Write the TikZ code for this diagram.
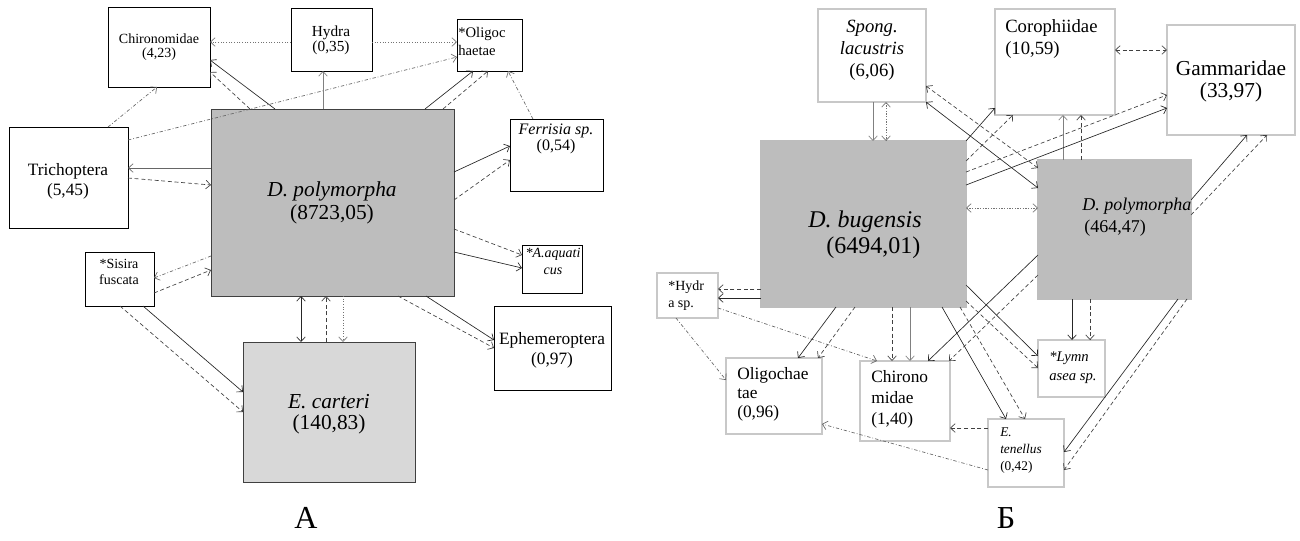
\documentclass[tikz,border=0pt]{standalone}
\usepackage{fontspec}
\setmainfont{Liberation Serif}
\usetikzlibrary{arrows.meta,calc}
\definecolor{grayA}{HTML}{BDBDBD}
\definecolor{grayB}{HTML}{D8D8D8}
\definecolor{edgeR}{HTML}{C8C8C8}
\begin{document}
\begin{tikzpicture}[x=0.75pt,y=-0.75pt,
  sz/.style 2 args={minimum width=#1*0.75pt,minimum height=#2*0.75pt},
  bxL/.style={draw=black,line width=0.6pt,inner sep=0pt,outer sep=0pt,fill=white},
  bxR/.style={draw=edgeR,line width=0.8pt,inner sep=0pt,outer sep=0pt,fill=white},
  tx/.style={inner sep=0pt,align=center},
  txl/.style={inner sep=0pt,align=left,anchor=west},
  fs/.style 2 args={font=\fontsize{#1}{#2}\selectfont},
  ar/.style={line width=0.5pt,-{Straight Barb[length=3.5pt,width=6.5pt]}},
  sl/.style={ar,draw=black!85},
  ds/.style={ar,draw=black!75,dash pattern=on 3pt off 2pt},
  dd/.style={ar,draw=black!60,dash pattern=on 2.5pt off 1.5pt on 0.6pt off 1.5pt},
  dt/.style={ar,draw=black!55,dash pattern=on 0.8pt off 1.2pt},
  both/.style={{Straight Barb[length=3.5pt,width=6.5pt]}-{Straight Barb[length=3.5pt,width=6.5pt]}},
]
\useasboundingbox (0,0) rectangle (1300,540);

% ---------- panel A boxes ----------
\node[bxL,sz={102}{80}] (chL) at (159,47) {};
\node[bxL,sz={81}{63}] (hyL) at (331.5,39.5) {};
\node[bxL,sz={65}{52}] (olL) at (489.5,45) {};
\node[bxL,sz={119}{101}] (trL) at (68.5,177.5) {};
\node[bxL,sz={243}{187},fill=grayA,draw=black!75] (dpL) at (332.5,202.5) {};
\node[bxL,sz={93}{72}] (feL) at (556.5,155) {};
\node[bxL,sz={60}{48}] (aqL) at (552,269) {};
\node[bxL,sz={69}{54}] (siL) at (119.5,279) {};
\node[bxL,sz={117}{84}] (epL) at (552.5,348) {};
\node[bxL,sz={172}{140},fill=grayB,draw=black!75] (ecL) at (329,412) {};

% ---------- panel B boxes ----------
\node[bxR,sz={108}{93}] (spR) at (872,55.5) {};
\node[bxR,sz={120}{106}] (coR) at (1055,62) {};
\node[bxR,sz={128}{110}] (gaR) at (1231,80) {};
\node[bxR,sz={205}{166},fill=grayA,draw=grayA] (dbR) at (863.5,224) {};
\node[bxR,sz={153}{139},fill=grayA,draw=grayA] (dpR) at (1114.5,229.5) {};
\node[bxR,sz={61}{45}] (hyR) at (687.5,295.5) {};
\node[bxR,sz={96}{76}] (olR) at (774,396) {};
\node[bxR,sz={90}{80}] (chR) at (905,401) {};
\node[bxR,sz={67}{57}] (lyR) at (1071.5,368.5) {};
\node[bxR,sz={76}{68}] (etR) at (1026,453) {};

% ---------- panel A connectors ----------
\draw[dt] ($(hyL.north west)+(0,34)$) -- ($(chL.north west)+(102,35)$);
\draw[dt] ($(hyL.north west)+(81,34)$) -- ($(olL.north west)+(0,23)$);
\draw[dd] ($(trL.north west)+(119,13)$) -- ($(olL.north west)+(0,38)$);
\draw[dd] ($(trL.north west)+(99,0)$) -- ($(chL.north west)+(49,80)$);
\draw[sl] ($(dpL.north west)+(64,0)$) -- ($(chL.north west)+(102,53)$);
\draw[ds] ($(dpL.north west)+(39,0)$) -- ($(chL.north west)+(102,65)$);
\draw[sl,draw=black!50] ($(dpL.north west)+(112,0)$) -- ($(hyL.north west)+(32,63)$);
\draw[sl] ($(dpL.north west)+(214,0)$) -- ($(olL.north west)+(16,52)$);
\draw[ds] ($(dpL.north west)+(232,0)$) -- ($(olL.north west)+(31,52)$);
\draw[dd] ($(feL.north west)+(23,0)$) -- ($(olL.north west)+(51,52)$);
\draw[sl] ($(dpL.north west)+(243,63)$) -- ($(feL.north west)+(0,27)$);
\draw[ds] ($(dpL.north west)+(243,91)$) -- ($(feL.north west)+(0,41)$);
\draw[ds] ($(dpL.north west)+(243,120)$) -- ($(aqL.north west)+(0,10)$);
\draw[sl] ($(dpL.north west)+(243,143)$) -- ($(aqL.north west)+(0,23)$);
\draw[sl] ($(dpL.north west)+(215,187)$) -- ($(epL.north west)+(0,34)$);
\draw[ds] ($(dpL.north west)+(187,187)$) -- ($(epL.north west)+(0,42)$);
\draw[sl,draw=black!60] ($(dpL.north west)+(0,59)$) -- ($(trL.north west)+(119,41)$);
\draw[ds] ($(trL.north west)+(119,51)$) -- ($(dpL.north west)+(0,76)$);
\draw[dd] ($(dpL.north west)+(0,147)$) -- ($(siL.north west)+(69,26)$);
\draw[ds] ($(siL.north west)+(69,41)$) -- ($(dpL.north west)+(0,161)$);
\draw[sl] ($(siL.north west)+(58,54)$) -- ($(ecL.north west)+(0,50)$);
\draw[ds] ($(siL.north west)+(35,54)$) -- ($(ecL.north west)+(0,70)$);
\draw[sl,both] ($(dpL.north west)+(90,187)$) -- ($(ecL.north west)+(58,0)$);
\draw[ds] ($(ecL.north west)+(83,0)$) -- ($(dpL.north west)+(115,187)$);
\draw[dt] ($(dpL.north west)+(132,187)$) -- ($(ecL.north west)+(100,0)$);

% ---------- panel B connectors ----------
\draw[sl,draw=black!50] ($(spR.north west)+(55,93)$) -- ($(dbR.north west)+(112,0)$);
\draw[dt,both] ($(spR.north west)+(68,93)$) -- ($(dbR.north west)+(125,0)$);
\draw[ds,both] ($(coR.north west)+(120,41)$) -- ($(gaR.north west)+(0,25)$);
\draw[sl,both] ($(spR.north west)+(108,93)$) -- ($(dpR.north west)+(0,28)$);
\draw[ds,both] ($(spR.north west)+(108,77)$) -- ($(dpR.north west)+(0,8)$);
\draw[sl] ($(dbR.north west)+(205,0)$) -- ($(coR.north west)+(0,99)$);
\draw[ds] ($(dbR.north west)+(205,20)$) -- ($(coR.north west)+(18,106)$);
\draw[sl,draw=black!50] ($(dpR.north west)+(25,0)$) -- ($(coR.north west)+(68,106)$);
\draw[ds] ($(dpR.north west)+(43,0)$) -- ($(coR.north west)+(86,106)$);
\draw[ds] ($(dbR.north west)+(205,31)$) -- ($(gaR.north west)+(0,70)$);
\draw[sl] ($(dbR.north west)+(205,44)$) -- ($(gaR.north west)+(0,83)$);
\draw[dt,both] ($(dbR.north west)+(205,67)$) -- ($(dpR.north west)+(0,48)$);
\draw[sl] ($(dpR.north west)+(153,40)$) -- ($(gaR.north west)+(80,110)$);
\draw[ds] ($(dpR.north west)+(153,55)$) -- ($(gaR.north west)+(100,110)$);
\draw[ds] ($(dbR.north west)+(0,148)$) -- ($(hyR.north west)+(61,16)$);
\draw[sl] ($(dbR.north west)+(0,157)$) -- ($(hyR.north west)+(61,25)$);
\draw[dd] ($(hyR.north west)+(19,45)$) -- ($(olR.north west)+(0,22)$);
\draw[dd] ($(hyR.north west)+(61,35)$) -- ($(chR.north west)+(17,0)$);
\draw[sl] ($(dbR.north west)+(75,166)$) -- ($(olR.north west)+(72,0)$);
\draw[ds] ($(dbR.north west)+(94,166)$) -- ($(olR.north west)+(92,0)$);
\draw[ds] ($(dbR.north west)+(131,166)$) -- ($(chR.north west)+(32,0)$);
\draw[sl,draw=black!50] ($(dbR.north west)+(149,166)$) -- ($(chR.north west)+(50,0)$);
\draw[sl] ($(dpR.north west)+(0,95)$) -- ($(chR.north west)+(68,0)$);
\draw[ds] ($(dpR.north west)+(0,115)$) -- ($(chR.north west)+(89,0)$);
\draw[sl] ($(dbR.north west)+(205,144)$) -- ($(lyR.north west)+(0,16)$);
\draw[ds] ($(dbR.north west)+(205,160)$) -- ($(lyR.north west)+(0,28)$);
\draw[sl] ($(dbR.north west)+(181,166)$) -- ($(etR.north west)+(18,0)$);
\draw[ds] ($(dbR.north west)+(199,166)$) -- ($(etR.north west)+(37,0)$);
\draw[sl] ($(dpR.north west)+(34,139)$) -- ($(lyR.north west)+(34,0)$);
\draw[ds] ($(dpR.north west)+(52,139)$) -- ($(lyR.north west)+(52,0)$);
\draw[sl] ($(dpR.north west)+(140,139)$) -- ($(etR.north west)+(76,33)$);
\draw[ds] ($(dpR.north west)+(149,139)$) -- ($(etR.north west)+(76,51)$);
\draw[ds] ($(etR.north west)+(0,9)$) -- ($(chR.north west)+(90,67)$);
\draw[dd] ($(etR.north west)+(0,51)$) -- ($(olR.north west)+(96,66)$);

% ---------- panel A texts ----------
\node[tx,fs={10.5}{11}] (chLt) at (159,47) {Chironomidae\\(4,23)};
\node[tx,fs={11.5}{11.5}] (hyLt) at (331,40) {Hydra\\(0,35)};
\node[txl,fs={11}{13.5}] (olLt) at (458,41) {*Oligoc\\haetae};
\node[tx,fs={13}{15}] (trLt) at (68,181) {Trichoptera\\(5,45)};
\node[tx,fs={16}{17}] (dpLt) at (332,203) {\textit{D. polymorpha}\\(8723,05)};
\node[tx,fs={12}{12}] (feLt) at (556,139) {\textit{Ferrisia sp.}\\(0,54)};
\node[tx,fs={10.5}{12.75}] (aqLt) at (553,261) {\textit{*A.aquati}\\\textit{cus}};
\node[tx,fs={10.5}{11.5}] (siLt) at (119,272) {*Sisira\\fuscata};
\node[tx,fs={13}{15}] (epLt) at (552,350) {Ephemeroptera\\(0,97)};
\node[tx,fs={16}{16}] (ecLt) at (329,414) {\textit{E. carteri}\\(140,83)};
\node[tx,fs={24}{24}] (labA) at (306,518) {А};

% ---------- panel B texts ----------
\node[tx,fs={14}{16.5}] (spRt) at (872,50) {\textit{Spong.}\\\textit{lacustris}\\(6,06)};
\node[txl,fs={14}{16.5}] (coRt) at (1005,39) {Corophiidae\\(10,59)};
\node[tx,fs={16}{16.5}] (gaRt) at (1231,81) {Gammaridae\\(33,97)};
\node[tx,fs={18}{19.5}] (dbRt) at (865,235) {\textit{D. bugensis}\\\hspace{0.7em}(6494,01)};
\node[txl,fs={13.5}{16}] (dpRt) at (1082,217) {\textit{D. polymorpha}\\\hspace*{1.5pt}(464,47)};
\node[txl,fs={10.5}{12.75}] (hyRt) at (668,296) {*Hydr\\a sp.};
\node[txl,fs={13}{14.25}] (olRt) at (737,394) {Oligochae\\tae\\(0,96)};
\node[txl,fs={13}{15.75}] (chRt) at (871,399) {Chirono\\midae\\(1,40)};
\node[txl,fs={11}{14}] (lyRt) at (1049,368) {\textit{*Lymn}\\\textit{asea sp.}};
\node[txl,fs={10}{12.75}] (etRt) at (1000,451) {\textit{E.}\\\textit{tenellus}\\(0,42)};
\node[tx,fs={24}{24}] (labB) at (1006,518) {Б};
\end{tikzpicture}
\end{document}
